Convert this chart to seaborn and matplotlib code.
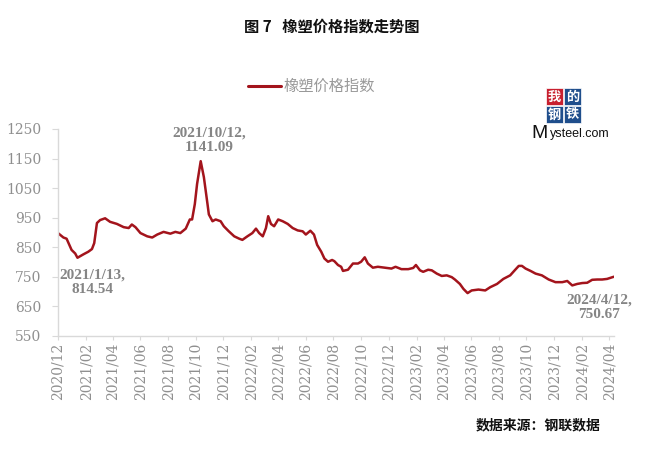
import matplotlib
matplotlib.use("Agg")
import matplotlib.pyplot as plt
import matplotlib.dates as mdates
from matplotlib.patches import Rectangle
import pandas as pd
import seaborn as sns

dates = [
    "2020-12-01", "2020-12-13", "2020-12-20", "2020-12-31", "2021-01-08", "2021-01-13",
    "2021-01-26", "2021-02-06", "2021-02-14", "2021-02-19", "2021-02-25", "2021-03-04",
    "2021-03-15", "2021-03-26", "2021-04-10", "2021-04-25", "2021-05-06", "2021-05-13",
    "2021-05-21", "2021-06-01", "2021-06-16", "2021-06-27", "2021-07-08", "2021-07-22",
    "2021-08-06", "2021-08-17", "2021-08-28", "2021-09-09", "2021-09-18", "2021-09-23",
    "2021-09-29", "2021-10-04", "2021-10-12", "2021-10-19", "2021-10-27", "2021-10-30",
    "2021-11-07", "2021-11-14", "2021-11-25", "2021-12-02", "2021-12-13", "2021-12-25",
    "2022-01-05", "2022-01-12", "2022-01-23", "2022-02-03", "2022-02-11", "2022-02-18",
    "2022-02-26", "2022-03-05", "2022-03-10", "2022-03-16", "2022-03-23", "2022-04-01",
    "2022-04-11", "2022-04-22", "2022-05-03", "2022-05-14", "2022-05-25", "2022-06-01",
    "2022-06-11", "2022-06-19", "2022-06-26", "2022-07-05", "2022-07-12", "2022-07-20",
    "2022-07-29", "2022-08-03", "2022-08-11", "2022-08-18", "2022-08-22", "2022-09-02",
    "2022-09-13", "2022-09-24", "2022-10-01", "2022-10-09", "2022-10-16", "2022-10-27",
    "2022-11-07", "2022-11-22", "2022-12-07", "2022-12-16", "2022-12-29", "2023-01-13",
    "2023-01-24", "2023-01-30", "2023-02-08", "2023-02-15", "2023-02-26", "2023-03-06",
    "2023-03-17", "2023-03-28", "2023-04-08", "2023-04-19", "2023-04-26", "2023-05-07",
    "2023-05-15", "2023-05-24", "2023-06-02", "2023-06-17", "2023-07-02", "2023-07-13",
    "2023-07-28", "2023-08-11", "2023-08-26", "2023-09-05", "2023-09-14", "2023-09-21",
    "2023-09-29", "2023-10-10", "2023-10-21", "2023-11-04", "2023-11-19", "2023-12-04",
    "2023-12-19", "2023-12-30", "2024-01-10", "2024-01-21", "2024-02-01", "2024-02-12",
    "2024-02-23", "2024-03-05", "2024-03-16", "2024-03-27", "2024-04-08", "2024-04-12",
]
values = [
    898, 883, 879, 841, 829, 814.54,
    826, 835, 844, 864, 932, 942,
    948, 936, 929, 918, 915, 927,
    918, 898, 887, 883, 893, 902,
    896, 902, 898, 913, 944, 944,
    996, 1064, 1141.09, 1087, 996, 961,
    938, 944, 938, 921, 904, 887,
    879, 875, 887, 898, 913, 898,
    887, 915, 955, 929, 921, 944,
    938, 929, 915, 907, 904, 893,
    906, 893, 858, 835, 812, 801,
    807, 803, 790, 784, 770, 774,
    795, 795, 801, 816, 795, 781,
    784, 781, 778, 784, 776, 776,
    780, 790, 772, 767, 774, 772,
    761, 753, 755, 749, 741, 726,
    709, 695, 704, 707, 704, 715,
    726, 743, 755, 772, 787, 787,
    778, 770, 761, 755, 741, 732,
    732, 736, 721, 726, 729, 730,
    740, 741, 741, 743, 749, 750.67,
]
series_name = "橡塑价格指数"
title = "图 7   橡塑价格指数走势图"
source = "数据来源：钢联数据"
y_ticks = [550, 650, 750, 850, 950, 1050, 1150, 1250]
annotations = [("2021-01-13", 814.54, "2021/1/13,\n814.54"),
               ("2021-10-12", 1141.09, "2021/10/12,\n1141.09"),
               ("2024-04-12", 750.67, "2024/4/12,\n750.67")]

df = pd.DataFrame({"date": pd.to_datetime(dates), "value": values})

sns.set_style("white")
plt.rcParams["font.family"] = ["DejaVu Serif", "Noto Sans CJK SC"]

fig = plt.figure(figsize=(6.5, 4.58), dpi=100)
ax = fig.add_axes([0.0892, 0.2664, 0.856, 0.452])

line_color = "#A3141C"
sns.lineplot(data=df, x="date", y="value", ax=ax, color=line_color, linewidth=1.8)

ax.set_ylim(550, 1250)
ax.set_xlim(pd.Timestamp("2020-12-01"), pd.Timestamp("2024-04-12"))
ax.set_yticks(y_ticks)
ax.xaxis.set_major_locator(mdates.MonthLocator(bymonth=[2, 4, 6, 8, 10, 12]))
ax.xaxis.set_major_formatter(mdates.DateFormatter("%Y/%m"))
ax.set_xlabel("")
ax.set_ylabel("")

grey = "#8f8f8f"
for s in ["top", "right"]:
    ax.spines[s].set_visible(False)
for s in ["left", "bottom"]:
    ax.spines[s].set_color("#d9d9d9")
    ax.spines[s].set_linewidth(1.0)
ax.tick_params(axis="y", left=True, length=4, color="#d9d9d9", labelsize=10, labelcolor=grey, pad=8)
ax.tick_params(axis="x", bottom=True, length=3, color="#d9d9d9", labelsize=10, labelcolor=grey, pad=2)
for lab in ax.get_xticklabels():
    lab.set_rotation(90)

offsets = [(10.6, -17.6), (5.8, 15.0), (-10.8, -22.0)]
for (d, v, txt), off in zip(annotations, offsets):
    ax.annotate(txt, xy=(pd.Timestamp(d), v), xytext=off, textcoords="offset points",
                ha="center", va="center", fontsize=11, fontweight="bold",
                color="#858585", family=["Liberation Serif"], linespacing=1.15)

# title
fig.text(0.51, 0.941, title, ha="center", va="center", fontsize=11, fontweight="bold",
         color="#111111", family=["Noto Sans CJK SC", "DejaVu Sans"])

# legend
fig.add_artist(plt.Line2D([248 / 650, 281 / 650], [1 - 86 / 458, 1 - 86 / 458],
                          color=line_color, linewidth=2.2, transform=fig.transFigure))
fig.text(284 / 650, 1 - 86 / 458, series_name, ha="left", va="center", fontsize=11,
         color="#999999", family=["Noto Sans CJK SC"])

# logo
logo_chars = [("我", 546, 88, "#C8202F"), ("的", 564, 88, "#1F4E8C"),
              ("钢", 546, 106, "#1F4E8C"), ("铁", 564, 106, "#1F4E8C")]
for ch, lx, ly, col in logo_chars:
    fig.add_artist(Rectangle((lx / 650, 1 - (ly + 17) / 458), 17 / 650, 17 / 458,
                             transform=fig.transFigure, facecolor=col, edgecolor="white", lw=0.5))
    fig.text((lx + 8.5) / 650, 1 - (ly + 8.5) / 458, ch, ha="center", va="center",
             fontsize=9.5, color="white", fontweight="bold", family=["Noto Sans CJK SC"])
fig.text(548 / 650, 1 - 133 / 458, "M", ha="right", va="center", fontsize=14,
         color="#111111", family=["Liberation Sans"])
fig.text(550 / 650, 1 - 134.5 / 458, "ysteel.com", ha="left", va="center", fontsize=9,
         color="#111111", family=["Liberation Sans"])

# source
fig.text(601 / 650, 1 - 425 / 458, source, ha="right", va="center", fontsize=10,
         fontweight="bold", color="#111111", family=["Noto Sans CJK SC"])

fig.savefig("out.png", dpi=100, facecolor="white")
